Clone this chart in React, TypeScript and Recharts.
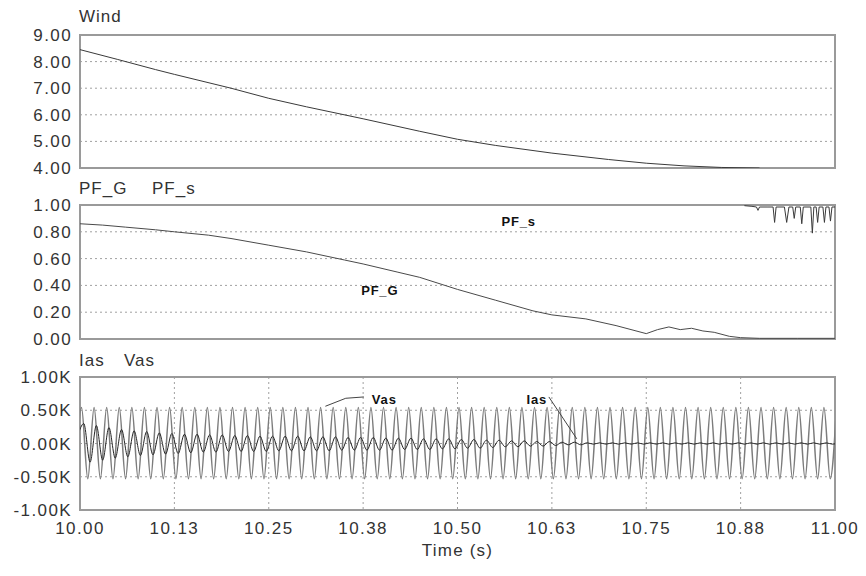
import React from 'react';
import {
  LineChart, Line, XAxis, YAxis, CartesianGrid, ReferenceDot, ReferenceLine, ReferenceArea,
} from 'recharts';

// ---------- data ----------
const xTicks = [10, 10.125, 10.25, 10.375, 10.5, 10.625, 10.75, 10.875, 11];

const windTicks = [4, 5, 6, 7, 8, 9];
const windTime = [10.0, 10.05, 10.1, 10.125, 10.2, 10.25, 10.3, 10.375, 10.45, 10.5, 10.55, 10.625, 10.7, 10.75, 10.8, 10.85, 10.9];
const windValue = [8.45, 8.08, 7.7, 7.52, 7.0, 6.62, 6.3, 5.85, 5.38, 5.08, 4.85, 4.56, 4.32, 4.18, 4.08, 4.02, 4.0];

const pfTicks = [0, 0.2, 0.4, 0.6, 0.8, 1.0];
const pfGTime = [10.0, 10.03, 10.06, 10.1, 10.125, 10.17, 10.2, 10.25, 10.3, 10.35, 10.375, 10.42, 10.45, 10.5, 10.55, 10.6, 10.625, 10.67, 10.71, 10.75, 10.765, 10.78, 10.795, 10.81, 10.825, 10.84, 10.86, 10.875, 10.9, 10.95, 11.0];
const pfGValue = [0.86, 0.85, 0.835, 0.815, 0.8, 0.775, 0.75, 0.7, 0.65, 0.59, 0.56, 0.5, 0.46, 0.37, 0.29, 0.21, 0.18, 0.15, 0.1, 0.04, 0.07, 0.09, 0.07, 0.08, 0.06, 0.05, 0.02, 0.01, 0.005, 0.005, 0.005];
const pfSTime = [10.88, 10.89, 10.896, 10.898, 10.9, 10.91, 10.918, 10.92, 10.922, 10.933, 10.936, 10.939, 10.944, 10.946, 10.948, 10.954, 10.956, 10.958, 10.968, 10.97, 10.972, 10.975, 10.977, 10.979, 10.984, 10.986, 10.988, 10.992, 10.994, 10.996, 11.0];
const pfSValue = [0.995, 0.99, 0.985, 0.96, 0.985, 0.985, 0.985, 0.87, 0.985, 0.985, 0.87, 0.985, 0.985, 0.9, 0.985, 0.985, 0.86, 0.985, 0.985, 0.79, 0.985, 0.985, 0.87, 0.985, 0.985, 0.87, 0.985, 0.985, 0.88, 0.985, 0.985];

const kTicks = [-1, -0.5, 0, 0.5, 1];
// half-cycle extremes (K), 60 Hz, first at 9.9937 s, spacing 1/120 s
const WAVE_T0 = 9.99367;
const HALF_PERIOD = 1 / 120;
const vasHalf = [
  -0.53,
  0.54, -0.53, 0.54, -0.53, 0.54, -0.53, 0.54, -0.53, 0.54, -0.53, 0.54, -0.53,
  0.54, -0.53, 0.54, -0.53, 0.54, -0.53, 0.54, -0.53, 0.54, -0.53, 0.54, -0.53,
  0.54, -0.53, 0.54, -0.53, 0.54, -0.53, 0.54, -0.53, 0.54, -0.53, 0.54, -0.53,
  0.54, -0.53, 0.54, -0.53, 0.54, -0.53, 0.54, -0.53, 0.54, -0.53, 0.54, -0.53,
  0.54, -0.53, 0.54, -0.53, 0.54, -0.53, 0.54, -0.53, 0.54, -0.53, 0.54, -0.53,
  0.54, -0.53, 0.54, -0.53, 0.54, -0.53, 0.54, -0.53, 0.54, -0.53, 0.54, -0.53,
  0.54, -0.53, 0.54, -0.53, 0.54, -0.53, 0.54, -0.53, 0.54, -0.53, 0.54, -0.53,
  0.54, -0.53, 0.54, -0.53, 0.54, -0.53, 0.54, -0.53, 0.54, -0.53, 0.54, -0.53,
  0.54, -0.53, 0.54, -0.53, 0.54, -0.53, 0.54, -0.53, 0.54, -0.53, 0.54, -0.53,
  0.54, -0.53, 0.54, -0.53, 0.54, -0.53, 0.54, -0.53, 0.54, -0.53, 0.54, -0.53,
  0.54,
];
const iasHalf = [
  0.1,
  0.3, -0.28, 0.27, -0.25, 0.24, -0.22, 0.21, -0.2, 0.19, -0.18, 0.18, -0.17,
  0.16, -0.16, 0.15, -0.15, 0.14, -0.14, 0.14, -0.13, 0.13, -0.13, 0.13, -0.12,
  0.12, -0.12, 0.12, -0.12, 0.11, -0.12, 0.11, -0.11, 0.11, -0.11, 0.11, -0.11,
  0.1, -0.11, 0.1, -0.11, 0.1, -0.1, 0.09, -0.1, 0.09, -0.1, 0.09, -0.1,
  0.08, -0.1, 0.08, -0.09, 0.08, -0.09, 0.07, -0.09, 0.07, -0.08, 0.07, -0.08,
  0.06, -0.07, 0.06, -0.07, 0.05, -0.06, 0.05, -0.05, 0.04, -0.05, 0.04, -0.04,
  0.03, -0.04, 0.03, -0.03, 0.02, -0.02, 0.02, -0.02, 0.01, -0.01, 0.01, -0.01,
  0.01, -0.01, 0.01, -0.01, 0.01, -0.01, 0.01, -0.01, 0.01, -0.01, 0.01, -0.01,
  0.01, -0.01, 0.01, -0.01, 0.01, -0.01, 0.01, -0.01, 0.01, -0.01, 0.01, -0.01,
  0.01, -0.01, 0.01, -0.01, 0.01, -0.01, 0.01, -0.01, 0.01, -0.01, 0.01, -0.01,
  0.01,
];
const IAS_T0 = 9.99667;

// ---------- build tables ----------
const windData = windTime.map((t, i) => ({ t, v: windValue[i] }));
const pfGData = pfGTime.map((t, i) => ({ t, v: pfGValue[i] }));
const pfSData = pfSTime.map((t, i) => ({ t, v: pfSValue[i] }));
const vasData = vasHalf.map((v, i) => ({ t: WAVE_T0 + i * HALF_PERIOD, v }));
const iasData = iasHalf.map((v, i) => ({ t: IAS_T0 + i * HALF_PERIOD, v }));

// ---------- styles ----------
const FONT = '"Liberation Sans", Arial, Helvetica, sans-serif';
const TXT = '#333';
const BORDER = '#9a9a9a';
const tickStyle = { fontSize: 17, fill: TXT, fontFamily: FONT, letterSpacing: 1.4 };
const fmt2 = (v: number) => v.toFixed(2);
const fmtK = (v: number) => v.toFixed(2) + 'K';
const W = 866;
const MARGIN_LR = { left: 8, right: 31 };

function axes(yTicks: number[], yDomain: [number, number], yFmt: (v: number) => string, showX: boolean) {
  return [
    <CartesianGrid key="g" stroke="#a0a0a0" strokeDasharray="2 3" strokeWidth={1} />,
    <XAxis
      key="x"
      dataKey="t"
      type="number"
      domain={[10, 11]}
      ticks={xTicks}
      interval={0}
      allowDataOverflow
      tickFormatter={fmt2}
      tick={showX ? tickStyle : false}
      tickLine={false}
      tickMargin={6}
      height={showX ? 30 : 0}
      axisLine={false}
      label={showX ? { value: 'Time (s)', position: 'bottom', offset: 4, style: { fontSize: 17, fill: TXT, fontFamily: FONT, letterSpacing: 1.2 } } : undefined}
    />,
    <YAxis
      key="y"
      type="number"
      domain={yDomain}
      ticks={yTicks}
      interval={0}
      allowDataOverflow
      tickFormatter={yFmt}
      tick={tickStyle}
      tickLine={false}
      width={72}
      axisLine={false}
    />,
    <ReferenceArea
      key="frame"
      x1={10}
      x2={11}
      y1={yDomain[0]}
      y2={yDomain[1]}
      fill="none"
      fillOpacity={0}
      stroke={BORDER}
      strokeWidth={2}
      ifOverflow="visible"
    />,
  ];
}

const titleStyle: React.CSSProperties = {
  position: 'absolute',
  fontFamily: FONT,
  fontSize: 17,
  letterSpacing: 1,
  color: TXT,
  lineHeight: '20px',
  whiteSpace: 'pre',
};

const annStyle = { fontSize: 13, fontWeight: 700, fill: '#111', fontFamily: FONT, letterSpacing: 0.8 };

export default function App() {
  return (
    <div style={{ position: 'absolute', left: 0, top: 0, width: W, height: 576, background: '#fff', overflow: 'hidden' }}>
      {/* Panel 1: Wind */}
      <div style={{ position: 'absolute', left: 0, top: 0 }}>
        <LineChart width={W} height={184} margin={{ top: 35, bottom: 16, ...MARGIN_LR }}>
          {axes(windTicks, [4, 9], fmt2, false)}
          <Line data={windData} dataKey="v" type="linear" stroke="#3a3a3a" strokeWidth={1} dot={false} isAnimationActive={false} />
        </LineChart>
      </div>
      <div style={{ ...titleStyle, left: 79, top: 7 }}>Wind</div>

      {/* Panel 2: PF */}
      <div style={{ position: 'absolute', left: 0, top: 170 }}>
        <LineChart width={W} height={184} margin={{ top: 35, bottom: 15, ...MARGIN_LR }}>
          {axes(pfTicks, [0, 1], fmt2, false)}
          <Line data={pfGData} dataKey="v" type="linear" stroke="#4a4a4a" strokeWidth={1} dot={false} isAnimationActive={false} />
          <Line data={pfSData} dataKey="v" type="linear" stroke="#3a3a3a" strokeWidth={1} dot={false} isAnimationActive={false} />
          <ReferenceDot x={10.581} y={0.875} r={0} stroke="none" label={{ value: 'PF_s', position: 'center', ...annStyle }} />
          <ReferenceDot x={10.397} y={0.36} r={0} stroke="none" label={{ value: 'PF_G', position: 'center', ...annStyle }} />
        </LineChart>
      </div>
      <div style={{ ...titleStyle, left: 79, top: 179 }}>PF_G</div>
      <div style={{ ...titleStyle, left: 152, top: 179 }}>PF_s</div>

      {/* Panel 3: Ias, Vas */}
      <div style={{ position: 'absolute', left: 0, top: 340 }}>
        <LineChart width={W} height={236} margin={{ top: 37, bottom: 36, ...MARGIN_LR }}>
          {axes(kTicks, [-1, 1], fmtK, true)}
          <Line data={vasData} dataKey="v" type="monotone" stroke="#7c7c7c" strokeWidth={1.5} dot={false} isAnimationActive={false} />
          <Line data={iasData} dataKey="v" type="monotone" stroke="#262626" strokeWidth={1} dot={false} isAnimationActive={false} />
          <ReferenceLine segment={[{ x: 10.376, y: 0.7 }, { x: 10.352, y: 0.68 }]} stroke="#444" strokeWidth={1} />
          <ReferenceLine segment={[{ x: 10.352, y: 0.68 }, { x: 10.325, y: 0.56 }]} stroke="#444" strokeWidth={1} />
          <ReferenceDot x={10.403} y={0.66} r={0} stroke="none" label={{ value: 'Vas', position: 'center', ...annStyle }} />
          <ReferenceLine segment={[{ x: 10.621, y: 0.7 }, { x: 10.658, y: 0.07 }]} stroke="#444" strokeWidth={1} />
          <ReferenceDot x={10.605} y={0.66} r={0} stroke="none" label={{ value: 'Ias', position: 'center', ...annStyle }} />
        </LineChart>
      </div>
      <div style={{ ...titleStyle, left: 79, top: 351 }}>Ias</div>
      <div style={{ ...titleStyle, left: 124, top: 351 }}>Vas</div>
    </div>
  );
}
